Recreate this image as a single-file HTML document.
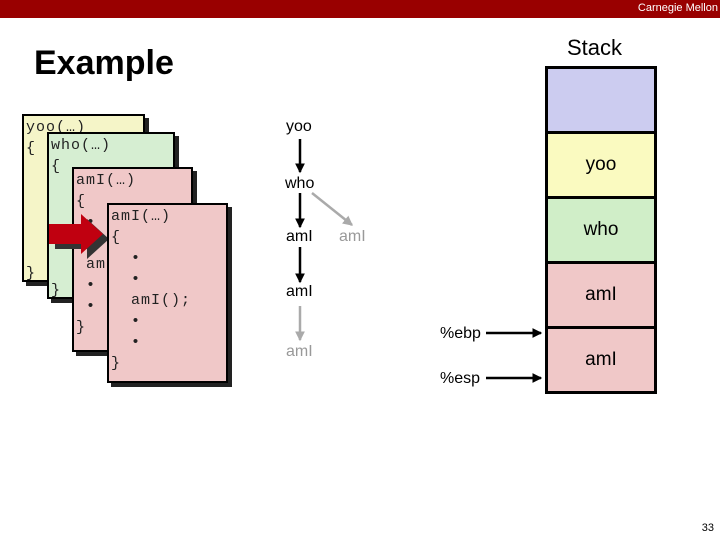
<!DOCTYPE html>
<html><head><style>
body{margin:0;width:720px;height:540px;position:relative;background:#fff;font-family:"Liberation Sans",sans-serif;overflow:hidden}
.a{position:absolute}
.box{position:absolute;border:2px solid #000;box-shadow:4px 4px 0 #222;font-family:"Liberation Mono",monospace;font-size:15px;letter-spacing:1px;line-height:21px;color:#222;box-sizing:border-box;padding:1px 2px;white-space:pre;overflow:hidden}
.cb{position:absolute;left:2px;bottom:-4px}
.st{position:absolute;left:545px;width:112px;border:3px solid #000;box-sizing:border-box;text-align:center;font-size:19px}
.lb{position:absolute;font-size:16px}
</style></head><body>
<div class="a" style="left:0;top:0;width:720px;height:18px;background:#990000"></div>
<div class="a" style="right:2px;top:2px;color:#fff;font-size:11px">Carnegie Mellon</div>
<div class="a" style="left:34px;top:44px;font-size:34px;font-weight:bold">Example</div>
<div class="a" style="left:567px;top:35px;font-size:22px">Stack</div>

<div class="box" style="left:22px;top:114px;width:123px;height:168px;background:#f5f5c8">yoo(…)
{<span class="cb">}</span></div>
<div class="box" style="left:47px;top:132px;width:128px;height:167px;background:#d6eed2">who(…)
{<span class="cb">}</span></div>
<div class="box" style="left:72px;top:167px;width:121px;height:185px;background:#f0c8c8">amI(…)
{
 •
 •
 amI();
 •
 •
}</div>
<svg class="a" style="left:0;top:0" width="720" height="540">
<polygon points="52,226 84,226 84,216 106,236 84,256 84,246 52,246" fill="#333" transform="translate(3,3)"/>
<polygon points="49,224 81,224 81,214 103,234 81,254 81,244 49,244" fill="#c00010"/>
</svg>
<div class="box" style="left:107px;top:203px;width:121px;height:180px;background:#f0c8c8">amI(…)
{
  •
  •
  amI();
  •
  •
}</div>

<div class="lb" style="left:286px;top:118px">yoo</div>
<div class="lb" style="left:285px;top:175px">who</div>
<div class="lb" style="left:286px;top:228px">amI</div>
<div class="lb" style="left:339px;top:228px;color:#999">amI</div>
<div class="lb" style="left:286px;top:283px">amI</div>
<div class="lb" style="left:286px;top:343px;color:#999">amI</div>
<svg class="a" style="left:0;top:0" width="720" height="540">
<defs><marker id="m" markerWidth="4" markerHeight="4" refX="3.5" refY="2" orient="auto"><path d="M0,0L4,2L0,4z" fill="#000"/></marker>
<marker id="g" markerWidth="4" markerHeight="4" refX="3.5" refY="2" orient="auto"><path d="M0,0L4,2L0,4z" fill="#aaa"/></marker></defs>
<g stroke-width="2.5">
<line x1="300" y1="139" x2="300" y2="172" stroke="#000" marker-end="url(#m)"/>
<line x1="300" y1="193" x2="300" y2="227" stroke="#000" marker-end="url(#m)"/>
<line x1="300" y1="247" x2="300" y2="282" stroke="#000" marker-end="url(#m)"/>
<line x1="300" y1="306" x2="300" y2="340" stroke="#aaa" marker-end="url(#g)"/>
<line x1="312" y1="193" x2="352" y2="225" stroke="#aaa" marker-end="url(#g)"/>
<line x1="486" y1="333" x2="541" y2="333" stroke="#000" marker-end="url(#m)"/>
<line x1="486" y1="378" x2="541" y2="378" stroke="#000" marker-end="url(#m)"/>
</g></svg>
<div class="lb" style="left:440px;top:325px">%ebp</div>
<div class="lb" style="left:440px;top:370px">%esp</div>

<div class="st" style="top:66px;height:68px;background:#ccccf0"></div>
<div class="st" style="top:131px;height:68px;background:#fafac0;line-height:62px">yoo</div>
<div class="st" style="top:196px;height:68px;background:#d0eec8;line-height:62px">who</div>
<div class="st" style="top:261px;height:68px;background:#f0c8c8;line-height:62px">amI</div>
<div class="st" style="top:326px;height:68px;background:#f0c8c8;line-height:62px">amI</div>
<div class="a" style="right:6px;top:522px;font-size:11px">33</div>
</body></html>
